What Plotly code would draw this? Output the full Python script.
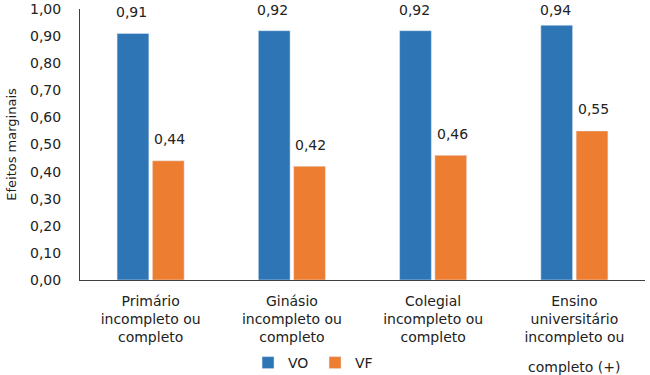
import plotly.graph_objects as go

categories = ["Primário", "Ginásio", "Colegial", "Ensino universitário"]
tick_labels = ["Primário<br>incompleto ou<br>completo",
               "Ginásio<br>incompleto ou<br>completo",
               "Colegial<br>incompleto ou<br>completo",
               "Ensino<br>universitário<br>incompleto ou"]
last_label_tail = "completo (+)"
vo = [0.91, 0.92, 0.92, 0.94]
vf = [0.44, 0.42, 0.46, 0.55]
yticks = [0.0, 0.1, 0.2, 0.3, 0.4, 0.5, 0.6, 0.7, 0.8, 0.9, 1.0]

W, H = 650, 375
M = dict(l=80, r=5, t=9, b=95)
plot_h = H - M["t"] - M["b"]

font = "DejaVu Sans, Verdana, sans-serif"
fig = go.Figure()
fig.add_bar(name="VO", x=categories, y=vo, marker_color="#2E75B6")
fig.add_bar(name="VF", x=categories, y=vf, marker_color="#ED7D31")

def fmt(v):
    return f"{v:.2f}".replace(".", ",")

def label_shift(v):
    # keep labels inside the chart area near the top, as the original does
    return min(21.5, plot_h * (1 - v) - 1)

for c, a, b in zip(categories, vo, vf):
    fig.add_annotation(x=c, y=a, text=fmt(a), showarrow=False, xshift=-19,
                       yanchor="middle", yshift=label_shift(a),
                       font=dict(size=14, color="#222"))
    fig.add_annotation(x=c, y=b, text=fmt(b), showarrow=False, xshift=19,
                       yanchor="middle", yshift=label_shift(b),
                       font=dict(size=14, color="#222"))

fig.add_annotation(x=categories[-1], y=0, yref="y", text=last_label_tail, showarrow=False,
                   yanchor="middle", yshift=-87, font=dict(size=14, color="#222"))

fig.update_layout(
    width=W, height=H,
    margin=M,
    paper_bgcolor="white", plot_bgcolor="white",
    font=dict(family=font, size=14, color="#222"),
    separators=",.",
    barmode="group", bargap=0.5, bargroupgap=0.1,
    showlegend=True,
    legend=dict(orientation="h", x=0.416, xanchor="center",
                yref="container", y=0.032, yanchor="middle",
                font=dict(size=14), itemwidth=30, entrywidth=22, traceorder="normal"),
)
fig.update_xaxes(showline=True, linecolor="#404040", linewidth=1, ticks="",
                 tickvals=categories, ticktext=tick_labels, automargin=False,
                 ticklabelstandoff=8, tickfont=dict(size=14), showgrid=False)
fig.update_yaxes(range=[0, 1.0], tickvals=yticks, tickformat=".2f", automargin=False,
                 showline=True, linecolor="#404040", linewidth=1, showgrid=False,
                 ticks="", zeroline=False, tickfont=dict(size=14), ticklabelstandoff=15,
                 title=dict(text="Efeitos marginais", font=dict(size=13), standoff=10))

fig.write_html("out.html", config={"displayModeBar": False},
               post_script="document.body.style.margin='0';")
